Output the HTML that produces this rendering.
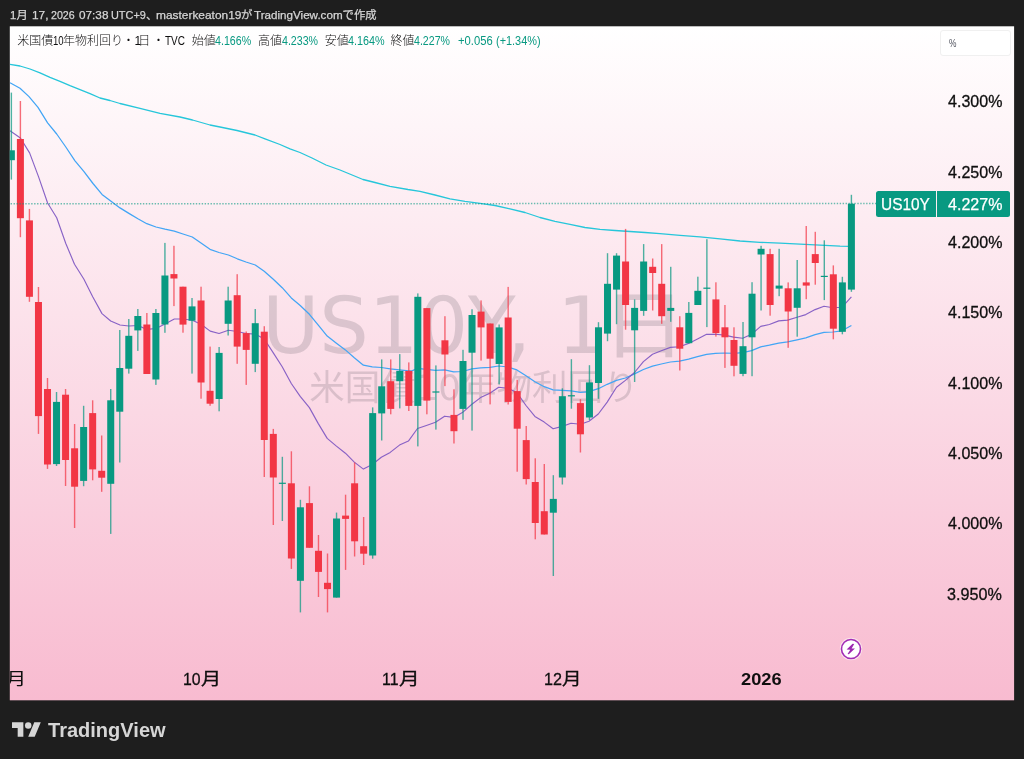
<!DOCTYPE html>
<html lang="ja"><head><meta charset="utf-8"><title>US10Y</title>
<style>
html,body{margin:0;padding:0}
body{width:1024px;height:759px;background:#1e1e1e;position:relative;overflow:hidden;font-family:"Liberation Sans","Noto Sans CJK JP",sans-serif;color:#131722}
#plot{position:absolute;left:0;top:0}
#clip{position:absolute;left:10px;top:0;width:1014px;height:759px;overflow:hidden}
#clip>div{position:absolute;left:-10px;top:0;width:1024px;height:759px}
.abs{position:absolute;white-space:nowrap}
.t{position:absolute;white-space:nowrap;line-height:40px;height:40px;transform-origin:0 0;display:block}
.wm1{left:262.2px;top:281px;font-family:"DejaVu Sans","Noto Sans CJK JP",sans-serif;font-size:78px;line-height:91px;color:rgba(75,68,80,0.185)}
.wm2{left:0.8px;width:946px;text-align:center;top:365px;font-family:"DejaVu Sans","Noto Sans CJK JP",sans-serif;font-size:35.5px;line-height:46px;color:rgba(75,68,80,0.185)}
#pct{left:940px;top:30px;width:69px;height:23.5px;border:1px solid #f0f0f0;border-radius:3px;background:#fff;box-sizing:content-box}
#lb1{left:876px;top:191px;width:60px;height:25.5px;background:#089981;border-radius:2.5px 0 0 2.5px}
#lb2{left:937px;top:191px;width:72.5px;height:25.5px;background:#089981;border-radius:0 2.5px 2.5px 0}
</style></head><body>
<svg id="chart" class="abs" style="left:0;top:0" width="1024" height="759" viewBox="0 0 1024 759"><defs><linearGradient id="bg" x1="0" y1="0" x2="0" y2="1"><stop offset="0" stop-color="#ffffff"/><stop offset="1" stop-color="#f8bbd0"/></linearGradient></defs><rect x="9.8" y="26.3" width="1004.3" height="674" fill="url(#bg)"/></svg>
<div class="abs wm1">US10Y<span style="margin-left:-9.5px">,</span> <span style="margin-left:1.5px">1</span><span style="display:inline-block;margin-left:-2px;transform:scale(1.085,0.945);transform-origin:50% 56%">日</span></div>
<div class="abs wm2">米国債10年物利回り</div>
<svg id="plot" width="1024" height="759" viewBox="0 0 1024 759">
<defs><clipPath id="cp"><rect x="9.8" y="26.3" width="1004.3" height="674"/></clipPath></defs>
<g clip-path="url(#cp)">
<!--lines-->
<path d="M10.0 64.3 L20.0 66.0 L30.0 69.0 L40.0 72.8 L50.0 77.4 L60.0 81.3 L70.0 85.7 L80.0 89.6 L90.0 93.6 L100.0 98.0 L110.0 100.5 L120.0 103.5 L140.0 108.4 L160.0 113.4 L180.0 117.0 L192.5 120.0 L210.0 125.0 L220.0 127.0 L237.0 130.5 L255.0 135.0 L265.0 138.8 L280.0 144.5 L290.0 148.8 L300.0 152.5 L312.0 158.0 L326.0 165.0 L340.0 170.0 L363.0 179.5 L375.0 182.5 L390.0 186.3 L408.0 189.5 L420.0 191.3 L435.0 195.0 L450.0 198.8 L465.0 201.3 L480.0 203.3 L495.0 205.5 L510.0 208.8 L525.0 212.5 L540.0 217.5 L555.0 221.3 L570.0 224.3 L585.0 227.5 L600.0 229.3 L615.0 230.5 L630.0 231.5 L645.0 232.5 L660.0 233.7 L680.0 235.4 L700.0 236.8 L720.0 238.9 L740.0 241.0 L760.0 242.3 L780.0 243.2 L800.0 244.2 L820.0 245.2 L840.0 246.2 L851.5 246.4" fill="none" stroke="#26c6da" stroke-width="1.3" stroke-linejoin="round"/>
<path d="M10.0 82.7 L20.0 88.3 L29.0 96.6 L38.0 107.4 L47.6 122.8 L56.7 134.0 L65.8 147.0 L75.0 160.8 L84.0 171.7 L93.0 183.5 L102.0 194.4 L110.7 201.0 L120.0 207.9 L128.9 213.4 L137.9 218.8 L146.8 223.7 L156.0 227.0 L165.0 229.2 L174.3 231.2 L183.0 234.0 L192.3 237.0 L201.0 243.0 L210.0 249.3 L219.0 252.5 L228.4 255.0 L237.3 258.8 L246.0 262.0 L255.3 265.0 L264.2 271.3 L273.3 279.3 L282.2 287.7 L291.3 297.9 L300.2 305.5 L309.4 314.3 L318.3 325.2 L327.2 336.1 L336.1 343.0 L345.4 349.9 L354.3 357.8 L363.4 365.2 L372.3 366.9 L381.3 367.5 L390.2 368.9 L399.5 369.9 L408.4 370.9 L412.0 370.9 L417.5 368.3 L426.4 369.3 L435.5 370.3 L444.6 369.9 L453.7 371.9 L462.4 371.5 L471.9 368.9 L480.6 367.9 L489.8 367.4 L498.7 366.0 L508.0 367.0 L516.9 369.9 L526.0 375.8 L534.9 381.8 L544.2 386.7 L553.1 389.8 L562.3 390.4 L571.0 390.9 L580.5 392.3 L589.0 391.7 L598.3 388.7 L607.2 384.3 L616.5 380.4 L625.4 378.0 L634.5 373.9 L643.4 369.5 L652.5 366.2 L661.3 364.0 L670.4 362.0 L679.5 361.2 L688.6 359.2 L697.5 356.7 L706.6 354.3 L715.5 353.3 L724.6 353.0 L733.7 353.4 L742.7 352.7 L751.6 350.6 L760.7 346.8 L769.4 345.2 L778.7 343.2 L787.6 341.9 L797.1 339.9 L805.8 337.9 L815.1 334.7 L824.0 332.4 L833.0 332.0 L841.9 330.8 L851.4 325.5" fill="none" stroke="#42a5f5" stroke-width="1.25" stroke-linejoin="round"/>
<path d="M10.0 130.8 L20.4 138.0 L29.6 152.9 L38.5 176.6 L47.6 203.0 L56.7 217.8 L65.8 243.5 L74.5 264.2 L83.8 279.0 L92.7 296.8 L102.0 313.6 L110.7 321.0 L120.0 325.0 L128.9 326.0 L137.9 325.5 L146.8 329.4 L156.0 328.5 L165.0 324.0 L174.3 319.0 L183.0 319.0 L192.3 320.2 L201.0 324.2 L210.2 331.1 L219.1 333.5 L228.4 330.2 L237.3 331.5 L246.0 333.5 L255.3 334.1 L264.2 339.0 L273.3 352.9 L282.2 366.7 L291.3 383.5 L300.2 396.4 L309.4 407.6 L318.3 423.6 L327.2 438.4 L336.1 445.9 L345.4 453.2 L354.3 462.1 L363.4 469.1 L372.3 464.5 L381.3 457.3 L390.2 452.4 L399.5 445.1 L408.4 441.1 L417.5 428.5 L426.4 425.5 L435.5 422.3 L444.6 416.2 L453.7 417.4 L462.4 412.6 L471.9 404.2 L480.6 397.6 L489.8 393.2 L498.7 387.3 L508.0 388.3 L516.9 392.6 L526.0 405.5 L534.9 416.4 L544.2 422.1 L553.1 428.8 L562.3 426.4 L571.0 423.3 L580.5 424.3 L589.0 421.3 L598.3 414.0 L607.2 402.1 L616.5 387.3 L625.4 380.4 L634.5 372.5 L643.4 361.6 L652.5 354.3 L661.3 350.8 L670.4 347.4 L679.5 346.8 L688.6 343.4 L697.5 338.9 L706.6 334.3 L715.5 334.3 L724.6 335.1 L733.6 337.1 L742.7 338.3 L751.6 334.3 L760.7 326.4 L769.4 324.5 L778.7 320.9 L787.6 320.1 L797.1 317.2 L805.8 314.6 L815.1 309.6 L824.0 306.3 L833.0 307.7 L841.9 307.3 L851.4 296.8" fill="none" stroke="#7e57c2" stroke-width="1.15" opacity="0.92" stroke-linejoin="round"/>
<g><rect x="10.67" y="92.6" width="1.4" height="87.0" fill="#089981" opacity="0.72"/><rect x="7.87" y="150.3" width="7" height="9.9" fill="#089981"/><rect x="19.70" y="101.0" width="1.4" height="136.2" fill="#f23645" opacity="0.72"/><rect x="16.90" y="139.0" width="7" height="79.2" fill="#f23645"/><rect x="28.73" y="208.9" width="1.4" height="92.9" fill="#f23645" opacity="0.72"/><rect x="25.93" y="220.4" width="7" height="76.4" fill="#f23645"/><rect x="37.77" y="287.0" width="1.4" height="146.9" fill="#f23645" opacity="0.72"/><rect x="34.97" y="302.0" width="7" height="114.1" fill="#f23645"/><rect x="46.80" y="378.0" width="1.4" height="90.9" fill="#f23645" opacity="0.72"/><rect x="44.00" y="389.0" width="7" height="75.5" fill="#f23645"/><rect x="55.83" y="392.0" width="1.4" height="74.0" fill="#089981" opacity="0.72"/><rect x="53.03" y="401.9" width="7" height="62.2" fill="#089981"/><rect x="64.86" y="389.0" width="1.4" height="97.0" fill="#f23645" opacity="0.72"/><rect x="62.06" y="394.7" width="7" height="65.3" fill="#f23645"/><rect x="73.90" y="424.0" width="1.4" height="104.0" fill="#f23645" opacity="0.72"/><rect x="71.10" y="448.3" width="7" height="38.4" fill="#f23645"/><rect x="82.93" y="405.8" width="1.4" height="80.4" fill="#089981" opacity="0.72"/><rect x="80.13" y="427.0" width="7" height="53.9" fill="#089981"/><rect x="91.96" y="400.3" width="1.4" height="80.0" fill="#f23645" opacity="0.72"/><rect x="89.16" y="413.1" width="7" height="56.3" fill="#f23645"/><rect x="100.99" y="435.5" width="1.4" height="56.3" fill="#f23645" opacity="0.72"/><rect x="98.19" y="470.8" width="7" height="6.9" fill="#f23645"/><rect x="110.03" y="389.0" width="1.4" height="144.9" fill="#089981" opacity="0.72"/><rect x="107.23" y="400.3" width="7" height="83.5" fill="#089981"/><rect x="119.06" y="330.0" width="1.4" height="132.5" fill="#089981" opacity="0.72"/><rect x="116.26" y="368.0" width="7" height="43.7" fill="#089981"/><rect x="128.09" y="319.0" width="1.4" height="54.6" fill="#089981" opacity="0.72"/><rect x="125.29" y="335.8" width="7" height="32.9" fill="#089981"/><rect x="137.12" y="309.0" width="1.4" height="41.9" fill="#089981" opacity="0.72"/><rect x="134.32" y="316.0" width="7" height="14.4" fill="#089981"/><rect x="146.16" y="313.0" width="1.4" height="61.0" fill="#f23645" opacity="0.72"/><rect x="143.36" y="324.5" width="7" height="49.5" fill="#f23645"/><rect x="155.19" y="309.0" width="1.4" height="75.9" fill="#089981" opacity="0.72"/><rect x="152.39" y="313.0" width="7" height="66.5" fill="#089981"/><rect x="164.22" y="242.9" width="1.4" height="89.9" fill="#089981" opacity="0.72"/><rect x="161.42" y="275.5" width="7" height="49.0" fill="#089981"/><rect x="173.25" y="245.8" width="1.4" height="60.3" fill="#f23645" opacity="0.72"/><rect x="170.45" y="274.1" width="7" height="4.4" fill="#f23645"/><rect x="182.29" y="286.7" width="1.4" height="46.0" fill="#f23645" opacity="0.72"/><rect x="179.49" y="286.7" width="7" height="37.9" fill="#f23645"/><rect x="191.32" y="298.0" width="1.4" height="75.6" fill="#089981" opacity="0.72"/><rect x="188.52" y="306.4" width="7" height="14.3" fill="#089981"/><rect x="200.35" y="286.7" width="1.4" height="112.0" fill="#f23645" opacity="0.72"/><rect x="197.55" y="300.5" width="7" height="82.0" fill="#f23645"/><rect x="209.38" y="346.6" width="1.4" height="59.2" fill="#f23645" opacity="0.72"/><rect x="206.58" y="390.8" width="7" height="12.9" fill="#f23645"/><rect x="218.42" y="347.0" width="1.4" height="64.3" fill="#089981" opacity="0.72"/><rect x="215.62" y="352.9" width="7" height="46.1" fill="#089981"/><rect x="227.45" y="286.7" width="1.4" height="48.8" fill="#089981" opacity="0.72"/><rect x="224.65" y="300.5" width="7" height="23.3" fill="#089981"/><rect x="236.48" y="274.2" width="1.4" height="89.6" fill="#f23645" opacity="0.72"/><rect x="233.68" y="295.2" width="7" height="51.4" fill="#f23645"/><rect x="245.52" y="331.5" width="1.4" height="53.4" fill="#f23645" opacity="0.72"/><rect x="242.72" y="333.1" width="7" height="16.8" fill="#f23645"/><rect x="254.55" y="309.0" width="1.4" height="63.1" fill="#089981" opacity="0.72"/><rect x="251.75" y="323.2" width="7" height="40.6" fill="#089981"/><rect x="263.58" y="326.2" width="1.4" height="150.8" fill="#f23645" opacity="0.72"/><rect x="260.78" y="331.7" width="7" height="108.3" fill="#f23645"/><rect x="272.61" y="428.9" width="1.4" height="96.1" fill="#f23645" opacity="0.72"/><rect x="269.81" y="433.9" width="7" height="43.6" fill="#f23645"/><rect x="281.65" y="456.8" width="1.4" height="64.2" fill="#089981" opacity="0.72"/><rect x="278.85" y="482.7" width="7" height="1.2" fill="#089981"/><rect x="290.68" y="451.3" width="1.4" height="117.6" fill="#f23645" opacity="0.72"/><rect x="287.88" y="483.3" width="7" height="75.2" fill="#f23645"/><rect x="299.71" y="499.8" width="1.4" height="112.6" fill="#089981" opacity="0.72"/><rect x="296.91" y="507.3" width="7" height="73.5" fill="#089981"/><rect x="308.74" y="486.3" width="1.4" height="61.5" fill="#f23645" opacity="0.72"/><rect x="305.94" y="503.1" width="7" height="44.7" fill="#f23645"/><rect x="317.78" y="535.0" width="1.4" height="62.0" fill="#f23645" opacity="0.72"/><rect x="314.98" y="550.8" width="7" height="21.1" fill="#f23645"/><rect x="326.81" y="553.5" width="1.4" height="58.9" fill="#f23645" opacity="0.72"/><rect x="324.01" y="582.8" width="7" height="6.3" fill="#f23645"/><rect x="335.84" y="512.6" width="1.4" height="85.0" fill="#089981" opacity="0.72"/><rect x="333.04" y="518.5" width="7" height="79.1" fill="#089981"/><rect x="344.87" y="494.7" width="1.4" height="75.2" fill="#f23645" opacity="0.72"/><rect x="342.07" y="515.6" width="7" height="3.3" fill="#f23645"/><rect x="353.91" y="462.5" width="1.4" height="94.0" fill="#f23645" opacity="0.72"/><rect x="351.11" y="483.3" width="7" height="58.0" fill="#f23645"/><rect x="362.94" y="517.0" width="1.4" height="48.0" fill="#f23645" opacity="0.72"/><rect x="360.14" y="546.2" width="7" height="7.5" fill="#f23645"/><rect x="371.97" y="407.4" width="1.4" height="151.3" fill="#089981" opacity="0.72"/><rect x="369.17" y="413.1" width="7" height="142.4" fill="#089981"/><rect x="381.00" y="359.4" width="1.4" height="81.1" fill="#089981" opacity="0.72"/><rect x="378.20" y="386.3" width="7" height="27.1" fill="#089981"/><rect x="390.04" y="359.4" width="1.4" height="54.9" fill="#f23645" opacity="0.72"/><rect x="387.24" y="381.2" width="7" height="27.7" fill="#f23645"/><rect x="399.07" y="354.1" width="1.4" height="54.3" fill="#089981" opacity="0.72"/><rect x="396.27" y="370.9" width="7" height="10.3" fill="#089981"/><rect x="408.10" y="362.4" width="1.4" height="48.6" fill="#f23645" opacity="0.72"/><rect x="405.30" y="370.9" width="7" height="35.0" fill="#f23645"/><rect x="417.13" y="293.4" width="1.4" height="153.0" fill="#089981" opacity="0.72"/><rect x="414.33" y="296.8" width="7" height="109.1" fill="#089981"/><rect x="426.17" y="308.1" width="1.4" height="106.2" fill="#f23645" opacity="0.72"/><rect x="423.37" y="308.1" width="7" height="92.5" fill="#f23645"/><rect x="435.20" y="365.4" width="1.4" height="64.2" fill="#089981" opacity="0.72"/><rect x="432.40" y="391.4" width="7" height="1.2" fill="#089981"/><rect x="444.23" y="316.2" width="1.4" height="69.9" fill="#f23645" opacity="0.72"/><rect x="441.43" y="340.3" width="7" height="14.2" fill="#f23645"/><rect x="453.26" y="389.3" width="1.4" height="54.2" fill="#f23645" opacity="0.72"/><rect x="450.46" y="414.9" width="7" height="16.3" fill="#f23645"/><rect x="462.30" y="349.8" width="1.4" height="70.0" fill="#089981" opacity="0.72"/><rect x="459.50" y="361.0" width="7" height="47.9" fill="#089981"/><rect x="471.33" y="309.2" width="1.4" height="121.4" fill="#089981" opacity="0.72"/><rect x="468.53" y="315.0" width="7" height="37.7" fill="#089981"/><rect x="480.36" y="300.4" width="1.4" height="60.2" fill="#f23645" opacity="0.72"/><rect x="477.56" y="311.6" width="7" height="15.8" fill="#f23645"/><rect x="489.40" y="323.5" width="1.4" height="80.9" fill="#f23645" opacity="0.72"/><rect x="486.60" y="323.5" width="7" height="35.2" fill="#f23645"/><rect x="498.43" y="324.5" width="1.4" height="59.8" fill="#089981" opacity="0.72"/><rect x="495.63" y="327.4" width="7" height="36.6" fill="#089981"/><rect x="507.46" y="286.9" width="1.4" height="117.6" fill="#f23645" opacity="0.72"/><rect x="504.66" y="317.5" width="7" height="84.4" fill="#f23645"/><rect x="516.49" y="379.8" width="1.4" height="91.9" fill="#f23645" opacity="0.72"/><rect x="513.69" y="391.1" width="7" height="37.6" fill="#f23645"/><rect x="525.53" y="426.0" width="1.4" height="58.5" fill="#f23645" opacity="0.72"/><rect x="522.73" y="440.1" width="7" height="39.0" fill="#f23645"/><rect x="534.56" y="458.3" width="1.4" height="81.0" fill="#f23645" opacity="0.72"/><rect x="531.76" y="482.0" width="7" height="41.0" fill="#f23645"/><rect x="543.59" y="464.0" width="1.4" height="70.5" fill="#f23645" opacity="0.72"/><rect x="540.79" y="511.2" width="7" height="23.3" fill="#f23645"/><rect x="552.62" y="475.2" width="1.4" height="100.8" fill="#089981" opacity="0.72"/><rect x="549.82" y="498.9" width="7" height="13.8" fill="#089981"/><rect x="561.66" y="388.3" width="1.4" height="96.2" fill="#089981" opacity="0.72"/><rect x="558.86" y="396.2" width="7" height="81.3" fill="#089981"/><rect x="570.69" y="359.2" width="1.4" height="49.5" fill="#089981" opacity="0.72"/><rect x="567.89" y="395.2" width="7" height="1.2" fill="#089981"/><rect x="579.72" y="399.2" width="1.4" height="53.3" fill="#f23645" opacity="0.72"/><rect x="576.92" y="403.1" width="7" height="31.2" fill="#f23645"/><rect x="588.75" y="365.2" width="1.4" height="54.8" fill="#089981" opacity="0.72"/><rect x="585.95" y="382.4" width="7" height="35.1" fill="#089981"/><rect x="597.79" y="322.2" width="1.4" height="76.6" fill="#089981" opacity="0.72"/><rect x="594.99" y="327.3" width="7" height="55.7" fill="#089981"/><rect x="606.82" y="253.2" width="1.4" height="88.0" fill="#089981" opacity="0.72"/><rect x="604.02" y="283.8" width="7" height="49.8" fill="#089981"/><rect x="615.85" y="253.2" width="1.4" height="71.0" fill="#089981" opacity="0.72"/><rect x="613.05" y="255.6" width="7" height="34.0" fill="#089981"/><rect x="624.88" y="228.9" width="1.4" height="100.8" fill="#f23645" opacity="0.72"/><rect x="622.08" y="261.5" width="7" height="43.5" fill="#f23645"/><rect x="633.92" y="299.4" width="1.4" height="82.6" fill="#089981" opacity="0.72"/><rect x="631.12" y="307.9" width="7" height="22.4" fill="#089981"/><rect x="642.95" y="244.1" width="1.4" height="71.7" fill="#089981" opacity="0.72"/><rect x="640.15" y="261.5" width="7" height="49.4" fill="#089981"/><rect x="651.98" y="258.5" width="1.4" height="52.0" fill="#f23645" opacity="0.72"/><rect x="649.18" y="266.8" width="7" height="6.2" fill="#f23645"/><rect x="661.01" y="244.1" width="1.4" height="79.7" fill="#f23645" opacity="0.72"/><rect x="658.21" y="283.8" width="7" height="32.4" fill="#f23645"/><rect x="670.05" y="266.8" width="1.4" height="55.0" fill="#089981" opacity="0.72"/><rect x="667.25" y="307.9" width="7" height="3.0" fill="#089981"/><rect x="679.08" y="316.2" width="1.4" height="54.3" fill="#f23645" opacity="0.72"/><rect x="676.28" y="327.3" width="7" height="21.4" fill="#f23645"/><rect x="688.11" y="302.0" width="1.4" height="41.2" fill="#089981" opacity="0.72"/><rect x="685.31" y="312.9" width="7" height="30.3" fill="#089981"/><rect x="697.15" y="276.7" width="1.4" height="28.3" fill="#089981" opacity="0.72"/><rect x="694.35" y="290.8" width="7" height="14.2" fill="#089981"/><rect x="706.18" y="239.2" width="1.4" height="87.9" fill="#089981" opacity="0.72"/><rect x="703.38" y="287.6" width="7" height="1.2" fill="#089981"/><rect x="715.21" y="282.3" width="1.4" height="54.3" fill="#f23645" opacity="0.72"/><rect x="712.41" y="299.4" width="7" height="33.7" fill="#f23645"/><rect x="724.24" y="305.0" width="1.4" height="62.9" fill="#f23645" opacity="0.72"/><rect x="721.44" y="327.3" width="7" height="10.0" fill="#f23645"/><rect x="733.28" y="327.3" width="1.4" height="49.0" fill="#f23645" opacity="0.72"/><rect x="730.48" y="340.0" width="7" height="25.8" fill="#f23645"/><rect x="742.31" y="322.0" width="1.4" height="54.2" fill="#089981" opacity="0.72"/><rect x="739.51" y="346.2" width="7" height="27.7" fill="#089981"/><rect x="751.34" y="282.2" width="1.4" height="94.0" fill="#089981" opacity="0.72"/><rect x="748.54" y="293.7" width="7" height="43.6" fill="#089981"/><rect x="760.37" y="245.8" width="1.4" height="64.7" fill="#089981" opacity="0.72"/><rect x="757.57" y="248.8" width="7" height="5.7" fill="#089981"/><rect x="769.41" y="248.8" width="1.4" height="66.9" fill="#f23645" opacity="0.72"/><rect x="766.61" y="254.1" width="7" height="50.9" fill="#f23645"/><rect x="778.44" y="248.8" width="1.4" height="47.4" fill="#089981" opacity="0.72"/><rect x="775.64" y="285.6" width="7" height="3.0" fill="#089981"/><rect x="787.47" y="282.4" width="1.4" height="65.4" fill="#f23645" opacity="0.72"/><rect x="784.67" y="288.3" width="7" height="23.2" fill="#f23645"/><rect x="796.50" y="260.0" width="1.4" height="76.7" fill="#089981" opacity="0.72"/><rect x="793.70" y="288.3" width="7" height="19.5" fill="#089981"/><rect x="805.54" y="226.0" width="1.4" height="73.2" fill="#f23645" opacity="0.72"/><rect x="802.74" y="282.4" width="7" height="3.2" fill="#f23645"/><rect x="814.57" y="231.8" width="1.4" height="52.9" fill="#f23645" opacity="0.72"/><rect x="811.77" y="254.1" width="7" height="8.9" fill="#f23645"/><rect x="823.60" y="240.3" width="1.4" height="59.8" fill="#089981" opacity="0.72"/><rect x="820.80" y="275.8" width="7" height="1.2" fill="#089981"/><rect x="832.63" y="265.4" width="1.4" height="73.9" fill="#f23645" opacity="0.72"/><rect x="829.83" y="274.3" width="7" height="54.4" fill="#f23645"/><rect x="841.67" y="276.8" width="1.4" height="57.5" fill="#089981" opacity="0.72"/><rect x="838.87" y="282.4" width="7" height="49.4" fill="#089981"/><rect x="850.70" y="194.8" width="1.4" height="97.0" fill="#089981" opacity="0.72"/><rect x="847.90" y="203.7" width="7" height="85.9" fill="#089981"/></g>
<line x1="10.6" y1="203.8" x2="876" y2="203.5" stroke="#089981" stroke-width="1.5" stroke-dasharray="1.4 1.54" opacity="0.6"/>
</g>
</svg>
<div id="pct" class="abs"></div>
<div id="lb1" class="abs"></div>
<div id="lb2" class="abs"></div>
<div id="clip"><div>
<span class="t" style="left:10.11px;top:-4.79px;font-size:11.3px;color:#d6d6d6;-webkit-text-stroke:0.25px #d6d6d6;">1月</span>
<span class="t" style="left:31.56px;top:-4.79px;font-size:11.3px;color:#d6d6d6;transform:scaleX(1.0500);-webkit-text-stroke:0.25px #d6d6d6;">17,</span>
<span class="t" style="left:51.35px;top:-4.79px;font-size:11.3px;color:#d6d6d6;transform:scaleX(0.9420);-webkit-text-stroke:0.25px #d6d6d6;">2026</span>
<span class="t" style="left:78.89px;top:-4.79px;font-size:11.3px;color:#d6d6d6;transform:scaleX(1.0408);-webkit-text-stroke:0.25px #d6d6d6;">07:38</span>
<span class="t" style="left:111.06px;top:-4.79px;font-size:11.3px;color:#d6d6d6;transform:scaleX(0.9644);-webkit-text-stroke:0.25px #d6d6d6;">UTC+9</span>
<span class="t" style="left:146.06px;top:-4.79px;font-size:11.3px;color:#d6d6d6;-webkit-text-stroke:0.25px #d6d6d6;">、</span>
<span class="t" style="left:156.44px;top:-4.79px;font-size:11.3px;color:#d6d6d6;transform:scaleX(1.0542);-webkit-text-stroke:0.25px #d6d6d6;">masterkeaton19</span>
<span class="t" style="left:241.08px;top:-4.79px;font-size:11.3px;color:#d6d6d6;-webkit-text-stroke:0.25px #d6d6d6;">が</span>
<span class="t" style="left:253.54px;top:-4.79px;font-size:11.3px;color:#d6d6d6;transform:scaleX(1.0298);-webkit-text-stroke:0.25px #d6d6d6;">TradingView.com</span>
<span class="t" style="left:342.62px;top:-4.79px;font-size:11.3px;color:#d6d6d6;-webkit-text-stroke:0.25px #d6d6d6;">で作成</span>
<span class="t" style="left:17.30px;top:21.31px;font-size:12px;color:#0f0f0f;font-weight:300;">米国債</span>
<span class="t" style="left:52.80px;top:21.31px;font-size:12px;color:#0f0f0f;transform:scaleX(0.7977);">10</span>
<span class="t" style="left:63.00px;top:21.31px;font-size:12px;color:#0f0f0f;font-weight:300;">年物利回り</span>
<span class="t" style="left:122.45px;top:21.31px;font-size:12px;color:#0f0f0f;font-weight:300;">・</span>
<span class="t" style="left:134.60px;top:21.31px;font-size:12px;color:#0f0f0f;font-weight:300;">1</span>
<span class="t" style="left:138.25px;top:21.31px;font-size:12px;color:#0f0f0f;font-weight:300;">日</span>
<span class="t" style="left:152.45px;top:21.31px;font-size:12px;color:#0f0f0f;font-weight:300;">・</span>
<span class="t" style="left:164.77px;top:21.31px;font-size:12px;color:#0f0f0f;transform:scaleX(0.8310);">TVC</span>
<span class="t" style="left:191.72px;top:21.31px;font-size:12px;color:#0f0f0f;font-weight:300;">始値</span>
<span class="t" style="left:215.34px;top:21.31px;font-size:12px;color:#089981;transform:scaleX(0.8872);">4.166%</span>
<span class="t" style="left:258.09px;top:21.31px;font-size:12px;color:#0f0f0f;font-weight:300;">高値</span>
<span class="t" style="left:281.64px;top:21.31px;font-size:12px;color:#089981;transform:scaleX(0.8859);">4.233%</span>
<span class="t" style="left:324.76px;top:21.31px;font-size:12px;color:#0f0f0f;font-weight:300;">安値</span>
<span class="t" style="left:347.83px;top:21.31px;font-size:12px;color:#089981;transform:scaleX(0.8997);">4.164%</span>
<span class="t" style="left:390.56px;top:21.31px;font-size:12px;color:#0f0f0f;font-weight:300;">終値</span>
<span class="t" style="left:414.49px;top:21.31px;font-size:12px;color:#089981;transform:scaleX(0.8834);">4.227%</span>
<span class="t" style="left:457.54px;top:21.31px;font-size:12px;color:#089981;transform:scaleX(0.9352);">+0.056</span>
<span class="t" style="left:496.18px;top:21.31px;font-size:12px;color:#089981;transform:scaleX(0.9089);">(+1.34%)</span>
<span class="t" style="left:947.72px;top:82.25px;font-size:16.6px;color:#0f0f0f;transform:scaleX(0.9670);-webkit-text-stroke:0.3px #0f0f0f;">4.300%</span>
<span class="t" style="left:947.72px;top:152.55px;font-size:16.6px;color:#0f0f0f;transform:scaleX(0.9670);-webkit-text-stroke:0.3px #0f0f0f;">4.250%</span>
<span class="t" style="left:947.72px;top:222.95px;font-size:16.6px;color:#0f0f0f;transform:scaleX(0.9670);-webkit-text-stroke:0.3px #0f0f0f;">4.200%</span>
<span class="t" style="left:947.72px;top:293.25px;font-size:16.6px;color:#0f0f0f;transform:scaleX(0.9670);-webkit-text-stroke:0.3px #0f0f0f;">4.150%</span>
<span class="t" style="left:947.72px;top:363.65px;font-size:16.6px;color:#0f0f0f;transform:scaleX(0.9670);-webkit-text-stroke:0.3px #0f0f0f;">4.100%</span>
<span class="t" style="left:947.72px;top:433.95px;font-size:16.6px;color:#0f0f0f;transform:scaleX(0.9670);-webkit-text-stroke:0.3px #0f0f0f;">4.050%</span>
<span class="t" style="left:947.72px;top:504.35px;font-size:16.6px;color:#0f0f0f;transform:scaleX(0.9670);-webkit-text-stroke:0.3px #0f0f0f;">4.000%</span>
<span class="t" style="left:947.29px;top:574.65px;font-size:16.6px;color:#0f0f0f;transform:scaleX(0.9748);-webkit-text-stroke:0.3px #0f0f0f;">3.950%</span>
<span class="t" style="left:881.29px;top:184.85px;font-size:16.6px;color:#fff;transform:scaleX(0.9298);-webkit-text-stroke:0.25px #fff;">US10Y</span>
<span class="t" style="left:947.72px;top:184.85px;font-size:16.6px;color:#fff;transform:scaleX(0.9670);-webkit-text-stroke:0.25px #fff;">4.227%</span>
<span class="t" style="left:948.87px;top:22.81px;font-size:11px;color:#50535e;transform:scaleX(0.7615);">%</span>
<span class="t" style="left:183.08px;top:660.45px;font-size:16.6px;color:#0f0f0f;transform:scaleX(0.9530);-webkit-text-stroke:0.3px #0f0f0f;">10</span>
<span class="t" style="left:200.53px;top:660.45px;font-size:16.6px;color:#0f0f0f;transform:scaleX(1.2187);-webkit-text-stroke:0.3px #0f0f0f;">月</span>
<span class="t" style="left:381.77px;top:660.45px;font-size:16.6px;color:#0f0f0f;transform:scaleX(0.9581);-webkit-text-stroke:0.3px #0f0f0f;">11</span>
<span class="t" style="left:398.91px;top:660.45px;font-size:16.6px;color:#0f0f0f;transform:scaleX(1.2420);-webkit-text-stroke:0.3px #0f0f0f;">月</span>
<span class="t" style="left:544.35px;top:660.45px;font-size:16.6px;color:#0f0f0f;transform:scaleX(0.9728);-webkit-text-stroke:0.3px #0f0f0f;">12</span>
<span class="t" style="left:562.36px;top:660.45px;font-size:16.6px;color:#0f0f0f;transform:scaleX(1.1799);-webkit-text-stroke:0.3px #0f0f0f;">月</span>
<span class="t" style="left:-3.94px;top:660.45px;font-size:16.6px;color:#0f0f0f;transform:scaleX(1.1127);">9</span>
<span class="t" style="left:6.03px;top:660.45px;font-size:16.6px;color:#0f0f0f;transform:scaleX(1.2187);">月</span>
<span class="t" style="left:740.76px;top:660.44px;font-size:16.6px;color:#0f0f0f;font-weight:bold;transform:scaleX(1.1007);">2026</span>
<span class="t" style="left:48.16px;top:709.57px;font-size:19.6px;color:#d6d6d6;font-weight:bold;transform:scaleX(1.0221);">TradingView</span>
</div></div>
<svg class="abs" style="left:839.3px;top:637.1px" width="24" height="24" viewBox="0 0 24 24">
<circle cx="12" cy="12" r="11.2" fill="#fff" opacity="0.55"/>
<circle cx="12" cy="12" r="9.5" fill="#fff" stroke="#a22db5" stroke-width="1.6"/>
<path d="M15.2 6.9 L12.6 11.4 L15.95 11.55 L9.8 17.35 L8.55 17 L11.3 12.75 L7.6 12.55 L13.6 6.75 Z" fill="#9c27b0"/>
</svg>
<svg class="abs" style="left:11.7px;top:718.7px" width="29.2" height="22.7" viewBox="0 0 36 28">
<path d="M14 22H7V11H0V4h14v18zM28 22h-8l7.5-18h8L28 22z" fill="#d6d6d6"/><circle cx="20" cy="8" r="4" fill="#d6d6d6"/>
</svg>
</body></html>
